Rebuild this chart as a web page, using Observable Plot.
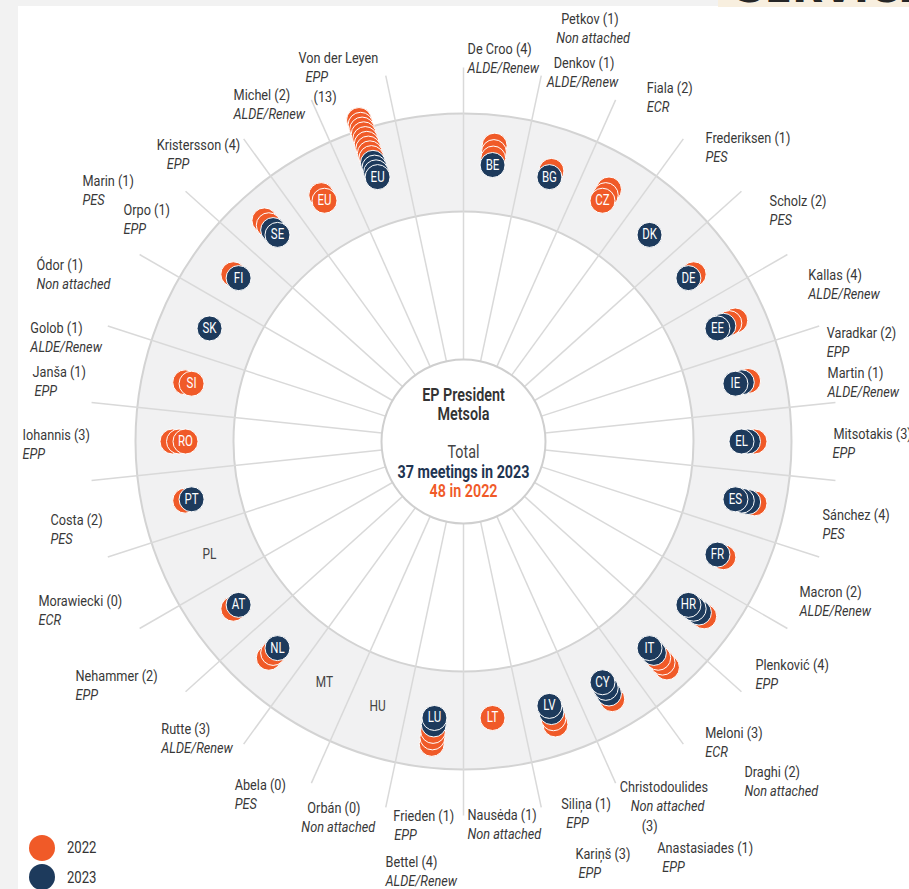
<!DOCTYPE html>
<html>
<head>
<meta charset="utf-8">
<script src="https://cdn.jsdelivr.net/npm/d3@7"></script>
<script src="https://cdn.jsdelivr.net/npm/@observablehq/plot@0.6"></script>
<style>
html, body { margin: 0; padding: 0; }
body { width: 909px; height: 889px; background: #f2f2f2; position: relative; overflow: hidden;
  font-family: Roboto, "Liberation Sans", sans-serif; }
#panel { position: absolute; left: 18px; top: 6px; right: 0; bottom: 0; background: #fff; }
#brand { position: absolute; left: 718px; top: 0; width: 191px; height: 7px; background: #f8efdf; overflow: hidden; }
#brand span { position: absolute; left: 18px; top: -32px; font: 900 40px/40px "DejaVu Sans", sans-serif; color: #262626; letter-spacing: 0px; }
#chart { position: absolute; left: 0; top: 0; }
.lg { position: absolute; left: 29px; width: 26px; height: 26px; border-radius: 50%; }
.lt { position: absolute; left: 67px; font-size: 16px; color: #333; line-height: 20px; transform: scaleX(0.82); transform-origin: left center; }
</style>
</head>
<body>
<div id="panel"></div>
<div id="brand"><span>SERVICE</span></div>
<div id="chart"></div>
<div class="lg" style="top:835px;background:#f05a28"></div>
<div class="lt" style="top:838px">2022</div>
<div class="lg" style="top:864px;background:#1d3a5c"></div>
<div class="lt" style="top:868px">2023</div>
<script>
// ---------- data ----------
const countries = ["BE","BG","CZ","DK","DE","EE","IE","EL","ES","FR","HR","IT","CY","LV","LT","LU","HU","MT","NL","AT","PL","PT","RO","SI","SK","FI","SE","EU","EU"];
const meetings2023 = [1,1,0,1,1,2,2,2,3,1,3,2,3,2,0,2,0,0,1,1,0,1,0,0,1,1,2,0,4];
const meetings2022 = [3,1,3,0,1,2,1,1,1,1,1,3,1,2,1,3,0,0,2,1,0,1,3,2,0,1,2,2,9];

const leaders = ["Von der Leyen","De Croo","Petkov","Denkov","Fiala","Frederiksen","Scholz","Kallas","Varadkar","Martin","Mitsotakis","Sánchez","Macron","Plenković","Meloni","Draghi","Christodoulides","Anastasiades","Siliņa","Kariņš","Nausėda","Frieden","Bettel","Orbán","Abela","Rutte","Nehammer","Morawiecki","Costa","Iohannis","Janša","Golob","Ódor","Orpo","Marin","Kristersson","Michel"];
const leaderMeetings = [13,4,1,1,2,1,2,4,2,1,3,4,2,4,3,2,3,1,1,3,1,1,4,0,0,3,2,0,2,3,1,1,1,1,1,4,2];
const leaderParty = ["EPP","ALDE/Renew","Non attached","ALDE/Renew","ECR","PES","PES","ALDE/Renew","EPP","ALDE/Renew","EPP","PES","ALDE/Renew","EPP","ECR","Non attached","Non attached","EPP","EPP","EPP","Non attached","EPP","ALDE/Renew","Non attached","PES","ALDE/Renew","EPP","ECR","PES","EPP","EPP","ALDE/Renew","Non attached","EPP","PES","EPP","ALDE/Renew"];
const countOnOwnLine = ["Von der Leyen","Christodoulides"];

const centreTitle = ["EP President", "Metsola"];
const total2023 = 37, total2022 = 48;

// ---------- layout (polar: degrees clockwise from top, radius) ----------
const labelAngle = [-23.3,0.6,13.0,13.4,27.4,38.6,51.9,64.2,73.4,79.3,88.8,101.6,114.2,127.5,140.3,139.6,155.7,154.5,164.9,164.8,179.4,-169.4,-169.5,-156.9,-146.3,-133.6,-121.1,-110.6,-100.8,-89.1,-80.9,-75.3,-67.6,-55.8,-55.6,-46.0,-33.6];
const labelRadius = [417,392,434,389,398,388,389,383,379,370.5,370,366.5,368.4,368,378.5,433.4,379.5,450,375,427,374,381.5,428,398,412.4,417.3,453.1,454.1,420.5,441,436.5,447.8,461.8,411,461.8,426.5,415.5];
const partyDx = [7,0,-5,-7,0,0,0,0,0,0,-1,0,0,0,0,0,11,5,5,3,0,1,0,-6,0,0,0,0,0,0,2,0,0,0,0,10,0];
const countDx = {"Von der Leyen": 15, "Christodoulides": 22};

const slotCount = 30, slotStart = 6, slotStep = 12;
const hubR = 82, ringInner = 230, ringOuter = 328, dotRing = 278, spokeEnd = 374, dotR = 12.5;
const NAVY = "#1d3a5c", ORANGE = "#f05a28", TEXT = "#383838";
const FONT = 'Roboto, "Liberation Sans", sans-serif';
const NARROW = 0.82;

const rad = a => a * Math.PI / 180;
const px = (a, r) => r * Math.sin(rad(a));
const py = (a, r) => r * Math.cos(rad(a));

// dots
const dots = [];
countries.forEach((c, k) => {
  const n23 = meetings2023[k], n22 = meetings2022[k], n = n23 + n22;
  const step = n > 1 ? Math.min(6.5, 60 / (n - 1)) : 0;
  const angle = slotStart + k * slotStep;
  for (let i = 0; i < n; i++) {
    dots.push({country: c, i, year: i < n23 ? "2023" : "2022", angle, r: dotRing + i * step});
  }
});
dots.sort((a, b) => b.i - a.i);
const fronts = dots.filter(d => d.i === 0);
const empties = countries.map((c, k) => ({c, k})).filter(d => meetings2023[d.k] + meetings2022[d.k] === 0)
  .map(d => ({country: d.c, angle: slotStart + d.k * slotStep}));

const labels = leaders.map((name, j) => ({
  name: countOnOwnLine.includes(name) ? name : `${name} (${leaderMeetings[j]})`,
  party: leaderParty[j],
  extra: countOnOwnLine.includes(name) ? `(${leaderMeetings[j]})` : null,
  extraDx: countDx[name] || 0,
  pdx: partyDx[j],
  x: px(labelAngle[j], labelRadius[j]),
  y: py(labelAngle[j], labelRadius[j])
}));

const spokes = d3.range(slotCount).map(k => k * slotStep);
const O = () => 0;

const chart = Plot.plot({
  width: 909, height: 889, margin: 0,
  x: {domain: [-463, 446], axis: null},
  y: {domain: [-448, 441], axis: null},
  color: {domain: ["2022", "2023"], range: [ORANGE, NAVY]},
  style: {background: "transparent", fontFamily: FONT, overflow: "hidden"},
  marks: [
    Plot.dot([0], {x: O, y: O, r: (ringInner + ringOuter) / 2, stroke: "#f1f1f2", strokeWidth: ringOuter - ringInner, fill: "none"}),
    Plot.dot([0], {x: O, y: O, r: ringOuter, stroke: "#d3d3d3", strokeWidth: 2, fill: "none"}),
    Plot.dot([0], {x: O, y: O, r: ringInner, stroke: "#d3d3d3", strokeWidth: 2, fill: "none"}),
    Plot.link(spokes, {x1: a => px(a, hubR), y1: a => py(a, hubR), x2: a => px(a, spokeEnd), y2: a => py(a, spokeEnd), stroke: "#d9d9d9", strokeWidth: 1.5}),
    Plot.dot([0], {x: O, y: O, r: hubR, stroke: "#cfcfcf", strokeWidth: 2, fill: "white"}),
    Plot.dot(dots, {x: d => px(d.angle, d.r), y: d => py(d.angle, d.r), r: dotR, fill: "year", stroke: "white", strokeWidth: 1}),
    Plot.text(fronts, {x: d => px(d.angle, d.r), y: d => py(d.angle, d.r), text: "country", fill: "white", fontSize: 14}),
    Plot.text(empties, {x: d => px(d.angle, dotRing), y: d => py(d.angle, dotRing), text: "country", fill: "#444", fontSize: 14.5}),
    Plot.text(labels, {x: "x", y: "y", text: "name", textAnchor: "start", fill: TEXT, fontSize: 15.5}),
    Plot.text(labels, {x: d => d.x + d.pdx, y: "y", dy: 19, text: "party", textAnchor: "start", fill: TEXT, fontSize: 15.5, fontStyle: "italic"}),
    Plot.text(labels.filter(d => d.extra), {x: d => d.x + d.extraDx, y: "y", dy: 39, text: "extra", textAnchor: "start", fill: TEXT, fontSize: 15.5}),
    Plot.text(centreTitle.slice(0, 1), {x: O, y: O, text: d => d, fill: "#333", fontSize: 17.5, fontWeight: 600, dy: -46}),
    Plot.text(centreTitle.slice(1), {x: O, y: O, text: d => d, fill: "#333", fontSize: 17.5, fontWeight: 600, dy: -27}),
    Plot.text(["Total"], {x: O, y: O, text: d => d, fill: "#444", fontSize: 17.5, dy: 11}),
    Plot.text([`${total2023} meetings in 2023`], {x: O, y: O, text: d => d, fill: "#1f3552", fontSize: 17.5, fontWeight: 700, dy: 31}),
    Plot.text([`${total2022} in 2022`], {x: O, y: O, text: d => d, fill: ORANGE, fontSize: 17.5, fontWeight: 600, dy: 50})
  ]
});

// condensed look: narrow every text horizontally about its own anchor
chart.querySelectorAll('g[aria-label="text"] text').forEach(el => {
  const t = el.getAttribute("transform");
  if (t) {
    el.setAttribute("transform", `${t} scale(${NARROW},1)`);
  } else {
    const x = +el.getAttribute("x") || 0, y = +el.getAttribute("y") || 0;
    el.removeAttribute("x"); el.removeAttribute("y");
    el.setAttribute("transform", `translate(${x},${y}) scale(${NARROW},1)`);
  }
});
document.getElementById("chart").appendChild(chart);
</script>
</body>
</html>
